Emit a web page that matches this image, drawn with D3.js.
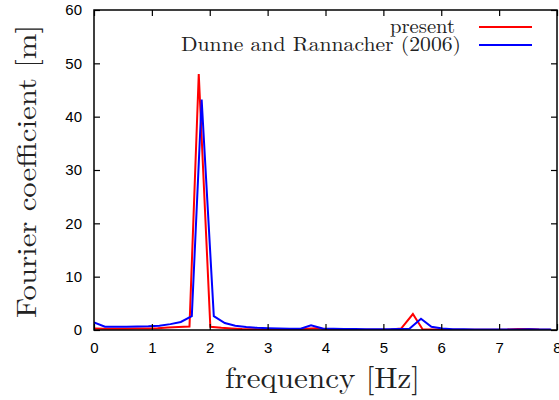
<!DOCTYPE html>
<html>
<head>
<meta charset="utf-8">
<script src="https://cdn.jsdelivr.net/npm/d3@7"></script>
<style>
  html, body { margin: 0; padding: 0; background: #fff; }
  svg { display: block; }
</style>
</head>
<body>
<div id="chart"></div>
<script>
// ---------------------------------------------------------------------------
// Fourier coefficient spectrum — present vs Dunne and Rannacher (2006)
// ---------------------------------------------------------------------------

const freqPresent = [0, 0.18, 0.37, 0.55, 0.73, 0.92, 1.10, 1.28, 1.46, 1.65, 1.81, 2.01, 2.20, 2.38, 2.56,
  2.75, 2.93, 3.11, 3.30, 3.48, 3.66, 3.85, 4.03, 4.21, 4.39, 4.58, 4.76, 4.94, 5.13, 5.31, 5.51,
  5.68, 5.86, 6.04, 6.23, 6.41, 6.59, 6.78, 6.96, 7.14, 7.33, 7.51, 7.69, 7.88];
const ampPresent = [0.3, 0.25, 0.25, 0.25, 0.3, 0.3, 0.35, 0.45, 0.55, 0.65, 48.0, 0.6, 0.4, 0.3, 0.2,
  0.15, 0.1, 0.1, 0.1, 0.15, 0.25, 0.35, 0.15, 0.1, 0.1, 0.05, 0.05, 0.05, 0.1, 0.3, 3.0,
  0.1, 0.1, 0.1, 0.05, 0.05, 0.05, 0.05, 0.05, 0.1, 0.2, 0.2, 0.1, 0.05];

const freqDunne = [0, 0.19, 0.38, 0.56, 0.75, 0.94, 1.13, 1.32, 1.50, 1.69, 1.86, 2.07, 2.26, 2.44,
  2.63, 2.82, 3.01, 3.20, 3.38, 3.57, 3.75, 3.95, 4.14, 4.32, 4.51, 4.70, 4.89, 5.08, 5.26, 5.45,
  5.65, 5.83, 6.02, 6.20, 6.39, 6.58, 6.77, 6.96, 7.14, 7.33, 7.52, 7.71, 7.90];
const ampDunne = [1.4, 0.6, 0.6, 0.6, 0.65, 0.7, 0.8, 1.1, 1.5, 2.6, 43.2, 2.6, 1.3, 0.8,
  0.55, 0.4, 0.35, 0.3, 0.25, 0.25, 0.9, 0.3, 0.25, 0.2, 0.2, 0.15, 0.15, 0.15, 0.2, 0.25,
  2.1, 0.6, 0.3, 0.15, 0.15, 0.1, 0.1, 0.1, 0.1, 0.1, 0.15, 0.1, 0.1];

const xTicks = [0, 1, 2, 3, 4, 5, 6, 7, 8];
const yTicks = [0, 10, 20, 30, 40, 50, 60];

const seriesNames = ['present', 'Dunne and Rannacher (2006)'];
const seriesColors = ['#ff0000', '#0000ff'];

const series = [
  { name: seriesNames[0], color: seriesColors[0], pts: freqPresent.map((f, i) => [f, ampPresent[i]]) },
  { name: seriesNames[1], color: seriesColors[1], pts: freqDunne.map((f, i) => [f, ampDunne[i]]) }
];

const width = 559, height = 400;
const margin = { left: 94, right: 2, top: 10, bottom: 70 };

const svg = d3.select('#chart').append('svg')
  .attr('width', width)
  .attr('height', height);

const x = d3.scaleLinear().domain([0, 8]).range([margin.left, width - margin.right]);
const y = d3.scaleLinear().domain([0, 60]).range([height - margin.bottom, margin.top]);

const tickFont = '"Liberation Sans", Arial, sans-serif';
const serifFont = '"Latin Modern Roman", "Liberation Serif", "DejaVu Serif", serif';

// Lines (clipped to plot area)
svg.append('clipPath').attr('id', 'plotclip')
  .append('rect')
  .attr('x', x(0)).attr('y', y(60))
  .attr('width', x(8) - x(0)).attr('height', y(0) - y(60));

const line = d3.line().x(d => x(d[0])).y(d => y(d[1]));

svg.append('g').attr('clip-path', 'url(#plotclip)')
  .selectAll('path')
  .data(series)
  .join('path')
  .attr('d', d => line(d.pts))
  .attr('fill', 'none')
  .attr('stroke', d => d.color)
  .attr('stroke-width', 2)
  .attr('stroke-linejoin', 'miter');

// Axes: ticks inside, mirrored on top/right
const tickLen = 6;
const gx = svg.append('g').attr('transform', `translate(0,${y(0)})`)
  .call(d3.axisBottom(x).tickValues(xTicks).tickSizeInner(-tickLen).tickSizeOuter(0).tickPadding(12).tickFormat(d3.format('d')));
const gxTop = svg.append('g').attr('transform', `translate(0,${y(60)})`)
  .call(d3.axisTop(x).tickValues(xTicks).tickSizeInner(-tickLen).tickSizeOuter(0).tickFormat(''));
const gy = svg.append('g').attr('transform', `translate(${x(0)},0)`)
  .call(d3.axisLeft(y).tickValues(yTicks).tickSizeInner(-tickLen).tickSizeOuter(0).tickPadding(12).tickFormat(d3.format('d')));
const gyRight = svg.append('g').attr('transform', `translate(${x(8)},0)`)
  .call(d3.axisRight(y).tickValues(yTicks).tickSizeInner(-tickLen).tickSizeOuter(0).tickFormat(''));

[gx, gxTop, gy, gyRight].forEach(g => {
  g.select('.domain').remove();
  g.selectAll('.tick line').attr('stroke', '#000').attr('stroke-width', 1.2);
  g.selectAll('.tick text')
    .attr('font-family', tickFont)
    .attr('font-size', '15px')
    .attr('fill', '#000');
});

// frame
svg.append('rect')
  .attr('x', x(0)).attr('y', y(60))
  .attr('width', x(8) - x(0)).attr('height', y(0) - y(60))
  .attr('fill', 'none')
  .attr('stroke', '#000')
  .attr('stroke-width', 1.5);

// Axis titles (serif, stretched to the reference's wider TeX glyphs)
svg.append('text')
  .attr('x', 225).attr('y', 388)
  .attr('font-family', serifFont)
  .attr('font-size', '29px')
  .attr('fill', '#222')
  .attr('textLength', 195)
  .attr('lengthAdjust', 'spacingAndGlyphs')
  .text('frequency [Hz]');

svg.append('text')
  .attr('transform', 'translate(36,318) rotate(-90)')
  .attr('font-family', serifFont)
  .attr('font-size', '28px')
  .attr('fill', '#222')
  .attr('textLength', 293)
  .attr('lengthAdjust', 'spacingAndGlyphs')
  .text('Fourier coefficient [m]');

// Legend
const legendRight = [455, 461];
const legendWidth = [65, 280];

const legend = svg.append('g').selectAll('g')
  .data(series)
  .join('g')
  .attr('transform', (d, i) => `translate(0,${27 + i * 18})`);

legend.append('text')
  .attr('x', (d, i) => legendRight[i] - legendWidth[i])
  .attr('y', 6)
  .attr('font-family', serifFont)
  .attr('font-size', '20px')
  .attr('fill', '#222')
  .attr('textLength', (d, i) => legendWidth[i])
  .attr('lengthAdjust', 'spacingAndGlyphs')
  .text(d => d.name);

legend.append('line')
  .attr('x1', 479).attr('x2', 532)
  .attr('y1', 0).attr('y2', 0)
  .attr('stroke', d => d.color)
  .attr('stroke-width', 2);
</script>
</body>
</html>
